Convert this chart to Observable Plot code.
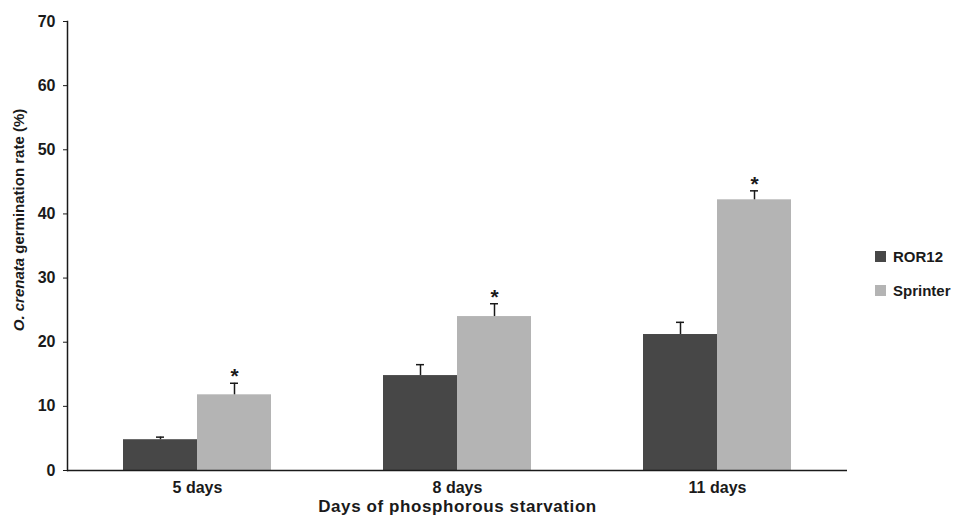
<!DOCTYPE html>
<html>
<head>
<meta charset="utf-8">
<script src="https://cdn.jsdelivr.net/npm/d3@7"></script>
<script src="https://cdn.jsdelivr.net/npm/@observablehq/plot@0.6"></script>
<style>
  html, body { margin: 0; padding: 0; background: #fff; }
  #wrap { position: relative; width: 955px; height: 521px; font-family: "Liberation Sans", Arial, sans-serif; }
  #legend { position: absolute; left: 875px; top: 246px; font-weight: bold; font-size: 15px; color: #1a1a1a; }
  #legend .row { display: flex; align-items: center; height: 20px; margin-bottom: 14px; }
  #legend .sw { width: 11px; height: 11px; margin-right: 7px; }
</style>
</head>
<body>
<div id="wrap"><div id="legend"></div></div>
<script>
const categories = ["5 days", "8 days", "11 days"];
const series = ["ROR12", "Sprinter"];
const ror12 = [4.8, 14.8, 21.2];
const ror12Err = [0.4, 1.7, 1.9];
const sprinter = [11.8, 24.0, 42.2];
const sprinterErr = [1.8, 2.0, 1.4];
const significant = ["*", "*", "*"];
const colors = ["#474747", "#b4b4b4"];

const rows = categories.map((c, i) => ({cat: c, ror: ror12[i], rorTop: ror12[i] + ror12Err[i], spr: sprinter[i], sprTop: sprinter[i] + sprinterErr[i], sig: significant[i]}));

const half = 74;
const chart = Plot.plot({
  width: 955,
  height: 521,
  marginLeft: 67,
  marginRight: 108,
  marginTop: 21,
  marginBottom: 51,
  style: {fontFamily: "Liberation Sans, Arial, sans-serif", color: "#1a1a1a", background: "white"},
  x: {domain: categories, paddingInner: 0.4308, paddingOuter: 0.2154},
  y: {domain: [0, 70]},
  marks: [
    Plot.barY(rows, {x: "cat", y: "ror", fill: colors[0], insetRight: half}),
    Plot.barY(rows, {x: "cat", y: "spr", fill: colors[1], insetLeft: half}),
    Plot.ruleX(rows, {x: "cat", y1: "ror", y2: "rorTop", dx: -37, stroke: "#1a1a1a", strokeWidth: 1.5}),
    Plot.tickY(rows, {x: "cat", y: "rorTop", dx: -37, insetLeft: 70, insetRight: 70, stroke: "#1a1a1a", strokeWidth: 1.5}),
    Plot.ruleX(rows, {x: "cat", y1: "spr", y2: "sprTop", dx: 37, stroke: "#1a1a1a", strokeWidth: 1.5}),
    Plot.tickY(rows, {x: "cat", y: "sprTop", dx: 37, insetLeft: 70, insetRight: 70, stroke: "#1a1a1a", strokeWidth: 1.5}),
    Plot.text(rows, {x: "cat", y: "sprTop", text: "sig", dx: 37, dy: 0, lineAnchor: "bottom", fontSize: 21, fontWeight: "bold", fill: "#1a1a1a"}),
    Plot.axisY({ticks: d3.range(0, 71, 10), tickSize: 4, tickPadding: 8, fontSize: 16, fontWeight: "bold", label: null}),
    Plot.axisX({tickSize: 0, tickPadding: 11, fontSize: 16, fontWeight: "bold", label: "Days of phosphorous starvation", labelAnchor: "center", labelArrow: "none", labelOffset: 41}),
    Plot.frame({anchor: "left", stroke: "#1a1a1a", strokeWidth: 1.5}),
    Plot.ruleY([0], {stroke: "#1a1a1a", strokeWidth: 1.5})
  ]
});

document.getElementById("wrap").prepend(chart);

// axis title a bit larger and wider than tick labels
d3.select(chart).selectAll("[aria-label='x-axis label'] text")
  .attr("font-size", 17)
  .attr("letter-spacing", "0.6px");

// y-axis label with italic species name
const svg = d3.select(chart);
const ylab = svg.append("text")
  .attr("transform", `translate(24, 220) rotate(-90)`)
  .attr("text-anchor", "middle")
  .attr("font-size", 15)
  .attr("font-weight", "bold")
  .attr("fill", "#1a1a1a");
ylab.append("tspan").attr("font-style", "italic").text("O. crenata");
ylab.append("tspan").text(" germination rate (%)");

const legend = d3.select("#legend");
series.forEach((s, i) => {
  const r = legend.append("div").attr("class", "row");
  r.append("div").attr("class", "sw").style("background", colors[i]);
  r.append("span").text(s);
});
</script>
</body>
</html>
